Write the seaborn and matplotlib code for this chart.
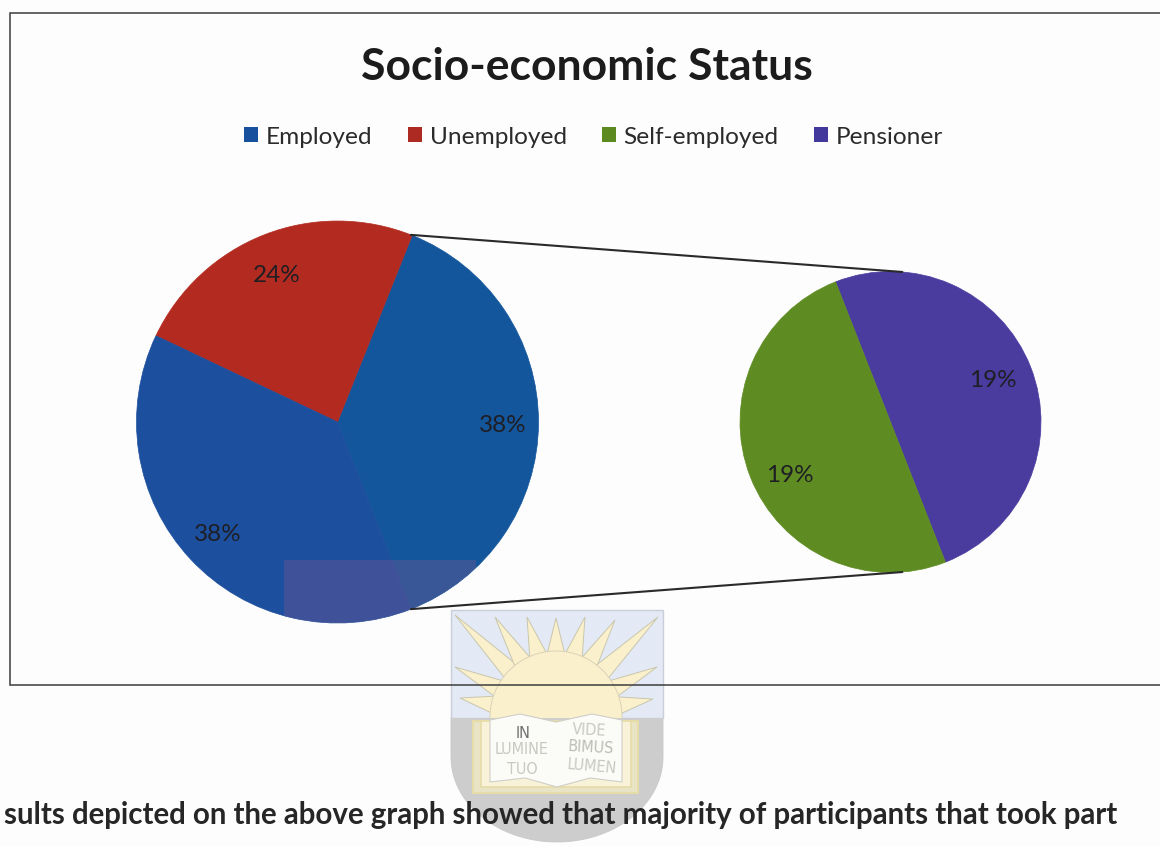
import numpy as np
import matplotlib
matplotlib.use("Agg")
import matplotlib.pyplot as plt
from matplotlib.patches import Patch, Polygon, Rectangle, Circle, ConnectionPatch
import seaborn as sns

sns.set_theme(style="white")
plt.rcParams['font.family'] = ['Lato', 'DejaVu Sans']

TITLE = "Socio-economic Status"
BODY = "sults depicted on the above graph showed that majority of participants that took part"
legend_labels = ["Employed", "Unemployed", "Self-employed", "Pensioner"]
legend_colors = ["#17509c", "#ad2a22", "#5d8a20", "#43389c"]
main_values = [38, 24, 38]
main_labels = ["38%", "24%", "38%"]
main_colors = ["#14569c", "#b32b20", "#1c4f9e"]
sub_values = [19, 19]
sub_labels = ["19%", "19%"]
sub_colors = ["#4a3b9f", "#5f8c22"]

W, H = 1160, 846
BG = "#fdfdfd"
fig = plt.figure(figsize=(W / 100, H / 100), dpi=100, facecolor=BG)

def px_axes(cx, cy, r, zorder):
    a = fig.add_axes([(cx - r) / W, 1 - (cy + r) / H, 2 * r / W, 2 * r / H], zorder=zorder)
    a.set_facecolor("none")
    return a

bg = fig.add_axes([0, 0, 1, 1], zorder=0)
bg.set_xlim(0, W); bg.set_ylim(H, 0); bg.axis("off")
top = fig.add_axes([0, 0, 1, 1], zorder=5)
top.set_xlim(0, W); top.set_ylim(H, 0); top.axis("off"); top.patch.set_alpha(0)

# watermark crest
t = np.linspace(0, np.pi / 2, 30)
shield_pts = [(451, 718), (663, 718), (663, 757)]
shield_pts += [(663 - 106 * (1 - np.cos(a)), 757 + 85 * np.sin(a)) for a in t]
shield_pts += [(451 + 106 * (1 - np.cos(a)), 757 + 85 * np.sin(a)) for a in t[::-1]]
shield_pts += [(451, 757)]
bg.add_patch(Polygon(shield_pts, closed=True, fc="#cdcdcd", ec="#c8c8c8", lw=0.6))
bg.add_patch(Rectangle((451, 610), 212, 108, fc="#e3eaf6", ec="#c9ced8", lw=1))
ray_tips = [(455, 615), (495, 617), (527, 617), (556, 618), (585, 617), (615, 620),
            (658, 617), (657, 667), (455, 667), (653, 699), (460, 698)]
for tx, ty in ray_tips:
    ang = np.arctan2(ty - 717, tx - 556)
    base = 62
    p1 = (556 + base * np.cos(ang + 0.15), 717 + base * np.sin(ang + 0.15))
    p2 = (556 + base * np.cos(ang - 0.15), 717 + base * np.sin(ang - 0.15))
    bg.add_patch(Polygon([(tx, ty), p1, p2], closed=True, fc="#fbf0cc", ec="#c9c6ad", lw=0.7))
bg.add_patch(Circle((556, 717), 66, fc="#fbf0cc", ec="#d8d3b8", lw=0.7))
bg.add_patch(Rectangle((451, 718), 212, 3, fc="#cdcdcd", ec="none"))
bg.add_patch(Rectangle((473, 721), 165, 72, fc="#e9e4c6", ec="#e6dca8", lw=1.5))
bg.add_patch(Rectangle((481, 721), 150, 66, fc="#f8f3d8", ec="#e6dca8", lw=1.2))
bg.add_patch(Polygon([(490, 720), (520, 714), (556, 722), (592, 714), (622, 720),
                      (622, 782), (590, 778), (557, 787), (525, 778), (490, 782)],
                     closed=True, fc="#fbfbf8", ec="#cfcfc8", lw=0.8))
for x, y, s, c, rot in [(523, 733, "IN", "#6f6f6f", 0), (522, 750, "LUMINE", "#c9c9c2", 0),
                        (522, 769, "TUO", "#c9c9c2", 0), (589, 730, "VIDE", "#c9c9c2", -3),
                        (591, 748, "BIMUS", "#bdbdb6", -3), (592, 767, "LUMEN", "#c9c9c2", -5)]:
    bg.text(x, y, s, ha="center", va="center", fontsize=11.5, color=c, rotation=rot,
            family="DejaVu Sans", stretch="condensed")

# chart frame, open on the right edge
top.plot([1160, 10, 10, 1160], [13, 13, 685, 685], color="#3c3c3c", lw=1.1, solid_joinstyle="miter")

R1, R2 = 201, 150.5
ax1 = px_axes(337.5, 422, R1, 2)
ax2 = px_axes(890.5, 422, R2, 2)

START_MAIN = -68.6
w1, _, a1 = ax1.pie(main_values, colors=main_colors, startangle=START_MAIN, counterclock=True,
                    autopct="%d%%", pctdistance=0.81, radius=1.0,
                    textprops=dict(fontsize=17.5, color="#1e1e24"))
START_SUB = -68.6
w2, _, a2 = ax2.pie(sub_values, colors=sub_colors, startangle=START_SUB, counterclock=True,
                    autopct="%d%%", pctdistance=0.745, radius=1.0,
                    textprops=dict(fontsize=17.5, color="#1e1e24"))
# label text and small pixel nudges to the positions seen in the scan
for a, labs, rad, nudges in ((a1, main_labels, R1, [(2, 3), (-1, 5), (-1, 1)]),
                             (a2, sub_labels, R2, [(-2, -1), (4, 13)])):
    for tx, lab, (dx, dy) in zip(a, labs, nudges):
        tx.set_text(lab)
        x0, y0 = tx.get_position()
        tx.set_position((x0 + dx / rad, y0 - dy / rad))
for a in (ax1, ax2):
    a.set_xlim(-1, 1); a.set_ylim(-1, 1)
for w in w1 + w2:
    w.set_clip_on(False)
    w.set_edgecolor(w.get_facecolor())
    w.set_linewidth(0.5)

# bar-of-pie style connectors
th_b = np.deg2rad(-START_MAIN)
th_c = np.deg2rad(85.5)
for s in (1, -1):
    fig.add_artist(ConnectionPatch(xyA=(np.cos(th_b), s * np.sin(th_b)), coordsA=ax1.transData,
                                   xyB=(np.cos(th_c), s * np.sin(th_c)), coordsB=ax2.transData,
                                   color="#2a2a2a", lw=1.5, zorder=6))

# translucent scan block on the lower part of the main pie
block = Rectangle((284, 560), 192, 65, fc="#a8578a", ec="none", alpha=0.25, zorder=1)
top.add_patch(block)
block.set_clip_path(Circle((337.5, 422), R1, transform=top.transData))

fig.text(587 / W, 1 - 67 / H, TITLE, ha="center", va="center", fontsize=32, fontweight="bold",
         color="#1c1c1c", zorder=10)
handles = [Patch(fc=c, ec="none") for c in legend_colors]
fig.legend(handles, legend_labels, ncol=4, loc="center", bbox_to_anchor=(593.5 / W, 1 - 137 / H),
           frameon=False, fontsize=17.6, handlelength=0.58, handleheight=0.58, handletextpad=0.32,
           columnspacing=1.43, labelcolor="#2b2b2b")
fig.text(4 / W, 1 - 815 / H, BODY, ha="left", va="center", fontsize=21.25, fontweight="bold",
         color="#262626", zorder=10)

fig.savefig("out.png", dpi=100, facecolor=BG)
